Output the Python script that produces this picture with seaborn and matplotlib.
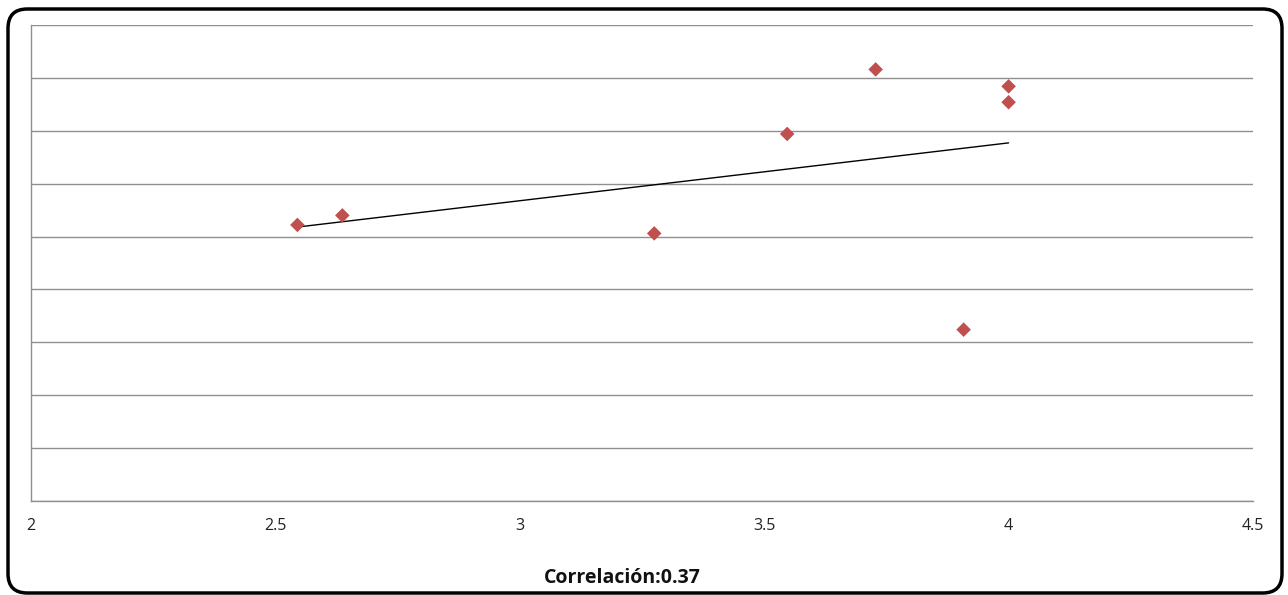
import matplotlib
matplotlib.use("Agg")
import matplotlib.pyplot as plt
from matplotlib.patches import FancyBboxPatch
import numpy as np
import pandas as pd
import seaborn as sns

# Data
x_vals = [2.545, 2.637, 3.275, 3.547, 3.728, 4.00, 4.00, 3.908]
y_vals = [2.61, 2.70, 2.53, 3.47, 4.08, 3.92, 3.77, 1.62]
x_ticks = [2, 2.5, 3, 3.5, 4, 4.5]
x_tick_labels = ["2", "2.5", "3", "3.5", "4", "4.5"]
y_ticks = [0, 0.5, 1, 1.5, 2, 2.5, 3, 3.5, 4, 4.5]
label = "Correlación:0.37"

df = pd.DataFrame({"x": x_vals, "y": y_vals})

sns.set_theme(style="white")
plt.rcParams["font.family"] = ["Open Sans", "DejaVu Sans"]

fig = plt.figure(figsize=(12.88, 5.95), dpi=100)
ax = fig.add_axes([31 / 1288, 1 - 501 / 595, (1253 - 31) / 1288, (501 - 25) / 595])

sns.regplot(data=df, x="x", y="y", ax=ax, ci=None, truncate=True,
            marker="D",
            scatter_kws=dict(color="#C0504D", s=55, edgecolors="none", alpha=1, zorder=3),
            line_kws=dict(color="black", lw=1.0, zorder=2))

ax.set_xlim(2, 4.5)
ax.set_ylim(0, 4.5)
ax.set_xticks(x_ticks)
ax.set_xticklabels(x_tick_labels, fontsize=11.5, color="#222222")
ax.set_yticks(y_ticks)
ax.set_yticklabels([])
ax.tick_params(axis="both", length=0, pad=12)
ax.yaxis.grid(True, color="#8f8f8f", lw=1)
ax.xaxis.grid(False)
ax.set_xlabel("")
ax.set_ylabel("")
for side in ["top", "right"]:
    ax.spines[side].set_visible(False)
ax.spines["left"].set_color("#8f8f8f")
ax.spines["bottom"].set_color("#8f8f8f")
ax.spines["left"].set_linewidth(1)
ax.spines["bottom"].set_linewidth(1)

fig.text(622 / 1288, 1 - 578 / 595, label, ha="center", va="center",
         fontsize=14, fontweight="bold", color="#111111")

frame = FancyBboxPatch((8 / 1288, 2 / 595), 1274 / 1288, 584 / 595,
                       boxstyle="round,pad=0,rounding_size=0.015",
                       transform=fig.transFigure, fill=False,
                       edgecolor="black", lw=2.5, mutation_aspect=1288 / 595)
fig.patches.append(frame)

fig.savefig("out.png", dpi=100)
